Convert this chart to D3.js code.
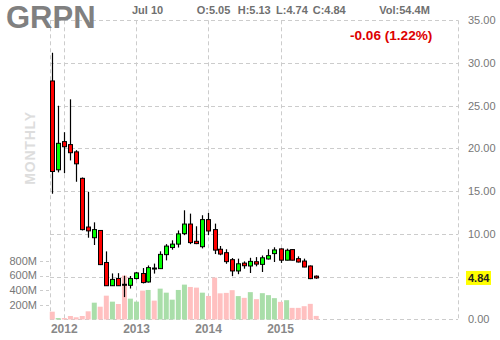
<!DOCTYPE html>
<html lang="en">
<head>
<meta charset="UTF-8">
<title>GRPN monthly</title>
<script src="https://cdn.jsdelivr.net/npm/d3@7"></script>
<style>
    body { margin: 0; background: #fff; }
    svg text { font-family: "Liberation Sans", Arial, sans-serif; }
</style>
</head>
<body>
<svg id="chart" width="500" height="340"></svg>
<script>
// monthly candles, Nov 2011 .. Jul 2015
let months = ["2011-11","2011-12",
    "2012-01","2012-02","2012-03","2012-04","2012-05","2012-06","2012-07","2012-08","2012-09","2012-10","2012-11","2012-12",
    "2013-01","2013-02","2013-03","2013-04","2013-05","2013-06","2013-07","2013-08","2013-09","2013-10","2013-11","2013-12",
    "2014-01","2014-02","2014-03","2014-04","2014-05","2014-06","2014-07","2014-08","2014-09","2014-10","2014-11","2014-12",
    "2015-01","2015-02","2015-03","2015-04","2015-05","2015-06","2015-07"];
let open  = [27.9,17.5, 20.8,20.45,19.6,16.5,10.8,9.55,10.4,6.65,3.93,4.78,4.1,3.98,
    4.77,5.36,4.37,6.0,5.93,7.57,8.4,8.8,10.03,11.15,9.13,8.5,
    11.67,10.5,8.2,7.8,6.98,5.66,6.58,6.24,6.74,6.43,7.06,7.69,
    8.24,6.92,8.16,7.1,6.82,6.24,5.05];
let high  = [31.2,25.0, 21.9,25.75,19.8,16.6,14.9,11.35,10.45,7.95,5.37,5.4,5.1,5.07,
    5.55,6.0,6.3,6.52,7.96,8.8,9.25,10.4,12.76,12.37,10.89,12.18,
    12.45,11.2,8.58,8.2,7.17,7.1,6.78,7.2,7.28,7.47,8.2,8.43,
    8.3,8.27,8.2,7.37,7.1,6.3,5.13];
let low   = [14.7,17.2, 17.1,18.6,16.1,10.4,9.55,8.7,6.35,3.9,3.9,3.9,2.6,3.6,
    4.67,4.2,4.3,5.35,5.9,6.9,8.15,8.4,9.85,8.8,8.8,8.3,
    9.85,7.64,7.5,6.5,5.05,5.28,5.92,5.42,6.2,5.54,7.0,6.71,
    6.6,6.9,6.9,6.65,6.1,4.7,4.74];
let close = [17.3,20.6, 20.2,19.5,18.2,10.5,10.35,10.5,6.4,3.93,4.67,3.93,4.0,4.77,
    5.43,4.3,6.05,5.9,7.6,8.57,8.8,10.0,11.15,8.98,8.86,11.67,
    10.34,8.1,7.64,6.75,5.66,6.5,6.27,6.78,6.46,7.2,7.45,8.12,
    6.92,8.08,6.92,6.71,6.12,4.76,4.84];
// volume in millions
let volume = [107,20, 20,48,30,48,112,230,175,326,244,212,600,285,
    244,395,404,258,422,367,271,404,477,445,436,367,
    322,573,358,364,401,320,296,374,278,360,333,292,
    241,264,159,159,182,214,49];

let priceTicks = [0,5,10,15,20,25,30,35];
let volumeTicks = [200,400,600,800];
let yearTicks = ["2012","2013","2014","2015"];
let lastClose = 4.84;

let parseMonth = d3.timeParse("%Y-%m");
let parseYear = d3.timeParse("%Y");
let data = months.map(function (m, i) {
    return {date: parseMonth(m), o: open[i], h: high[i], l: low[i], c: close[i], v: volume[i]};
});

let svg = d3.select("#chart");
let plotLeft = 50, plotRight = 458, plotTop = 20.3, plotBottom = 319.3;

let x = d3.scaleTime()
    .domain([parseMonth("2012-01"), parseMonth("2015-01")])
    .range([64.3, 280.5]);
let y = d3.scaleLinear().domain([0, 35]).range([plotBottom, plotTop]);
let yv = d3.scaleLinear().domain([0, 800]).range([319.5, 261]);

let grid = svg.append("g")
    .attr("stroke", "#cccccc")
    .attr("stroke-width", 1)
    .attr("stroke-dasharray", "4,3");

// horizontal grid
grid.selectAll("line.h").data(priceTicks).join("line")
    .attr("class", "h")
    .attr("x1", plotLeft).attr("x2", plotRight)
    .attr("y1", d => Math.round(y(d)) + 0.5)
    .attr("y2", d => Math.round(y(d)) + 0.5);

// vertical grid: edges + years
let vlines = [plotLeft, plotRight].concat(yearTicks.map(d => x(parseYear(d))));
grid.selectAll("line.v").data(vlines).join("line")
    .attr("class", "v")
    .attr("x1", d => Math.round(d) + 0.5).attr("x2", d => Math.round(d) + 0.5)
    .attr("y1", plotTop).attr("y2", plotBottom);

// volume tick dashes
grid.selectAll("line.vt").data(volumeTicks).join("line")
    .attr("class", "vt")
    .attr("stroke-dasharray", "3,3")
    .attr("x1", 40).attr("x2", 50)
    .attr("y1", d => Math.round(yv(d)) + 0.5)
    .attr("y2", d => Math.round(yv(d)) + 0.5);

// MONTHLY watermark
svg.append("text")
    .attr("transform", "translate(35,148) rotate(-90)")
    .attr("text-anchor", "middle")
    .style("font-size", "14px")
    .style("font-weight", "bold")
    .style("letter-spacing", "0.8px")
    .attr("fill", "#dddddd")
    .text("MONTHLY");

// volume bars
svg.append("g").selectAll("rect").data(data).join("rect")
    .attr("x", d => x(d.date) - 2.5)
    .attr("width", 5)
    .attr("y", d => yv(d.v))
    .attr("height", d => yv(0) - yv(d.v))
    .attr("fill", d => d.c < d.o ? "#ffc0c0" : "#a9dea9");

// candles
let candles = svg.append("g").selectAll("g").data(data).join("g");
candles.append("line")
    .attr("x1", d => Math.round(x(d.date)) + 0.5)
    .attr("x2", d => Math.round(x(d.date)) + 0.5)
    .attr("y1", d => y(d.h))
    .attr("y2", d => y(d.l))
    .attr("stroke", "#000")
    .attr("stroke-width", 1.2);
candles.append("rect")
    .attr("x", d => Math.round(x(d.date)) - 1.5)
    .attr("width", 4)
    .attr("y", d => y(Math.max(d.o, d.c)))
    .attr("height", d => Math.max(1, y(Math.min(d.o, d.c)) - y(Math.max(d.o, d.c))))
    .attr("fill", d => d.c < d.o ? "#ff0000" : "#00ff00")
    .attr("stroke", "#000")
    .attr("stroke-width", 1);

// right price axis labels
svg.append("g").selectAll("text").data(priceTicks).join("text")
    .attr("x", 468)
    .attr("y", d => y(d))
    .attr("dy", "0.35em")
    .style("font-size", "11px")
    .attr("fill", "#777")
    .text(d => d3.format(".2f")(d));

// last close tag
svg.append("rect")
    .attr("x", 466).attr("y", y(lastClose) - 7)
    .attr("width", 25).attr("height", 14)
    .attr("fill", "#ffff00");
svg.append("text")
    .attr("x", 468).attr("y", y(lastClose))
    .attr("dy", "0.35em")
    .style("font-size", "11px")
    .style("font-weight", "bold")
    .attr("fill", "#222")
    .text(d3.format(".2f")(lastClose));

// volume labels
svg.append("g").selectAll("text").data(volumeTicks).join("text")
    .attr("x", 37)
    .attr("y", d => yv(d))
    .attr("dy", "0.35em")
    .attr("text-anchor", "end")
    .style("font-size", "11px")
    .attr("fill", "#777")
    .text(d => d + "M");

// year labels
svg.append("g").selectAll("text").data(yearTicks).join("text")
    .attr("x", d => x(parseYear(d)))
    .attr("y", 333)
    .attr("text-anchor", "middle")
    .style("font-size", "12px")
    .style("font-weight", "bold")
    .attr("fill", "#888")
    .text(d => d);

// header
svg.append("text")
    .attr("x", 6).attr("y", 28)
    .style("font-size", "31px")
    .style("font-weight", "bold")
    .attr("fill", "#808080")
    .text("GRPN");

let header = [["Jul 10", 132], ["O:5.05", 196.7], ["H:5.13", 237.7], ["L:4.74", 276], ["C:4.84", 312.7], ["Vol:54.4M", 379.3]];
svg.append("g").selectAll("text").data(header).join("text")
    .attr("x", d => d[1]).attr("y", 14)
    .style("font-size", "11px")
    .style("font-weight", "bold")
    .attr("fill", "#707070")
    .text(d => d[0]);

svg.append("text")
    .attr("x", 350).attr("y", 40)
    .style("font-size", "13.6px")
    .style("font-weight", "bold")
    .attr("fill", "#dd0000")
    .text("-0.06 (1.22%)");
</script>
</body>
</html>
